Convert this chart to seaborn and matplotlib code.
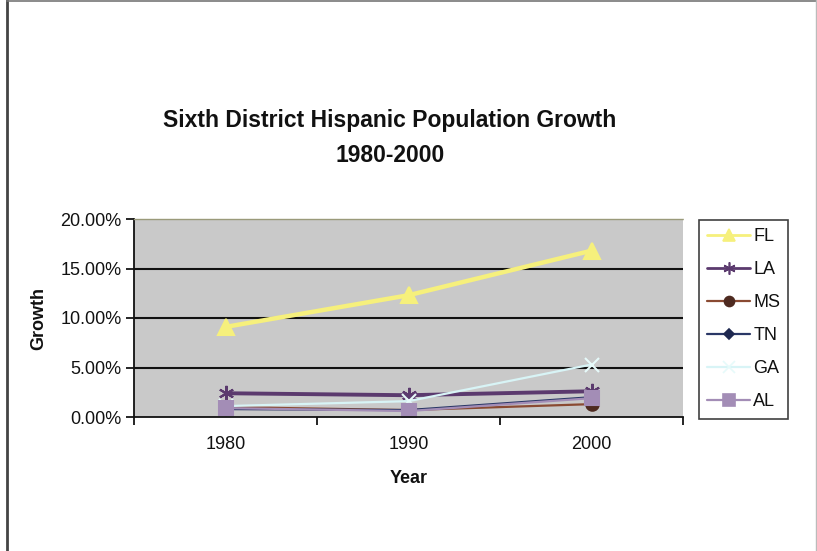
import matplotlib
matplotlib.use("Agg")
import matplotlib.pyplot as plt
from matplotlib.ticker import PercentFormatter, FixedLocator
from matplotlib.lines import Line2D
import seaborn as sns
import pandas as pd

# Hispanic share of population (%) by state, census years
years = [1980, 1990, 2000]
states = ["FL", "LA", "MS", "TN", "GA", "AL"]
fl = [9.1, 12.3, 16.8]
la = [2.4, 2.2, 2.6]
ms = [1.0, 0.7, 1.3]
tn = [0.8, 0.7, 2.0]
ga = [1.1, 1.6, 5.3]
al = [0.9, 0.6, 1.9]
values = {"FL": fl, "LA": la, "MS": ms, "TN": tn, "GA": ga, "AL": al}

df = pd.DataFrame(
    [(s, y, v) for s in states for y, v in zip(years, values[s])],
    columns=["State", "Year", "Growth"],
)

styles = {
    "FL": dict(color="#F6F07C", marker="^", lw=3.2, ms=11, mec="#F6F07C"),
    "LA": dict(color="#5B3A6E", marker=(6, 2, 0), lw=2.8, ms=11, mec="#5B3A6E"),
    "MS": dict(color="#8A4A32", marker="o", lw=1.6, ms=9, mec="#4E2A20", mfc="#4E2A20"),
    "TN": dict(color="#2A3766", marker="D", lw=1.6, ms=6, mec="#1E2850", mfc="#1E2850"),
    "GA": dict(color="#D8F4F6", marker="x", lw=1.6, ms=10, mec="#E6FAFA"),
    "AL": dict(color="#A38DB6", marker="s", lw=1.6, ms=10, mec="#A38DB6"),
}

sns.set_theme(style="white")
plt.rcParams["font.family"] = ["Liberation Sans", "DejaVu Sans"]

fig = plt.figure(figsize=(8.17, 5.51), dpi=100)
fig.patch.set_facecolor("white")
ax = fig.add_axes([134 / 817, 1 - 417 / 551, (683 - 134) / 817, (417 - 219) / 551])
ax.set_facecolor("#C9C9C9")

for s in states:
    st = styles[s]
    sub = df[df["State"] == s]
    sns.lineplot(
        data=sub, x="Year", y="Growth", ax=ax, color=st["color"],
        marker=st["marker"], linewidth=st["lw"], markersize=st["ms"],
        markeredgecolor=st["mec"], markerfacecolor=st.get("mfc", st["color"]),
        markeredgewidth=1.5, label=s, legend=False,
    )

ax.set_xlim(1975, 2005)
ax.set_ylim(0, 20)

# category-style x axis: tick marks at boundaries, labels at centres
ax.xaxis.set_major_locator(FixedLocator(years))
ax.xaxis.set_minor_locator(FixedLocator([1975, 1985, 1995, 2005]))
ax.tick_params(axis="x", which="major", length=0, pad=14, labelsize=13, colors="#111111")
ax.tick_params(axis="x", which="minor", length=6, width=1.2, direction="out", color="black", bottom=True)
ax.set_yticks([0, 5, 10, 15, 20])
ax.yaxis.set_major_formatter(PercentFormatter(xmax=100, decimals=2))
ax.tick_params(axis="y", length=6, width=1.2, direction="out", color="black", left=True,
               labelsize=13, pad=3, colors="#111111")

for yv in [5, 10, 15]:
    ax.axhline(yv, color="#111111", lw=1.5, zorder=0.5)

for side in ["left", "bottom"]:
    ax.spines[side].set_color("#111111")
    ax.spines[side].set_linewidth(1.3)
ax.spines["top"].set_color("#9A9A7A")
ax.spines["top"].set_linewidth(1.0)
ax.spines["top"].set_linestyle((0, (1, 1)))
ax.spines["right"].set_visible(False)

ax.set_xlabel("Year", fontsize=13, fontweight="bold", labelpad=12, color="#111111")
ax.set_ylabel("Growth", fontsize=13, fontweight="bold", labelpad=9, color="#111111")

fig.text(390 / 817, 1 - 120 / 551, "Sixth District Hispanic Population Growth",
         ha="center", va="center", fontsize=16.5, fontweight="bold", color="#111111")
fig.text(390 / 817, 1 - 155 / 551, "1980-2000",
         ha="center", va="center", fontsize=16.5, fontweight="bold", color="#111111")

handles = [
    Line2D([], [], color=styles[s]["color"], marker=styles[s]["marker"],
           lw=min(styles[s]["lw"], 2.0), ms=styles[s]["ms"] * 0.8,
           mec=styles[s]["mec"], mfc=styles[s].get("mfc", styles[s]["color"]), mew=1.2)
    for s in states
]
leg = fig.legend(
    handles, states, loc="upper left",
    bbox_to_anchor=(699 / 817, 1 - 220 / 551), bbox_transform=fig.transFigure,
    frameon=True, fancybox=False, edgecolor="#111111", fontsize=13,
    handlelength=2.4, handletextpad=0.15, labelspacing=0.89, borderpad=0.45,
    borderaxespad=0,
)
leg.get_frame().set_linewidth(1.2)
for t in leg.get_texts():
    t.set_color("#111111")

# outer frame of the chart area
fig.add_artist(Line2D([7 / 817, 7 / 817], [0, 1], transform=fig.transFigure, color="#444444", lw=2))
fig.add_artist(Line2D([7 / 817, 1], [1 - 1 / 551, 1 - 1 / 551], transform=fig.transFigure, color="#777777", lw=1.2))
fig.add_artist(Line2D([815.5 / 817, 815.5 / 817], [0, 1], transform=fig.transFigure, color="#BBBBBB", lw=1))

fig.savefig("out.png", dpi=100, facecolor="white")
